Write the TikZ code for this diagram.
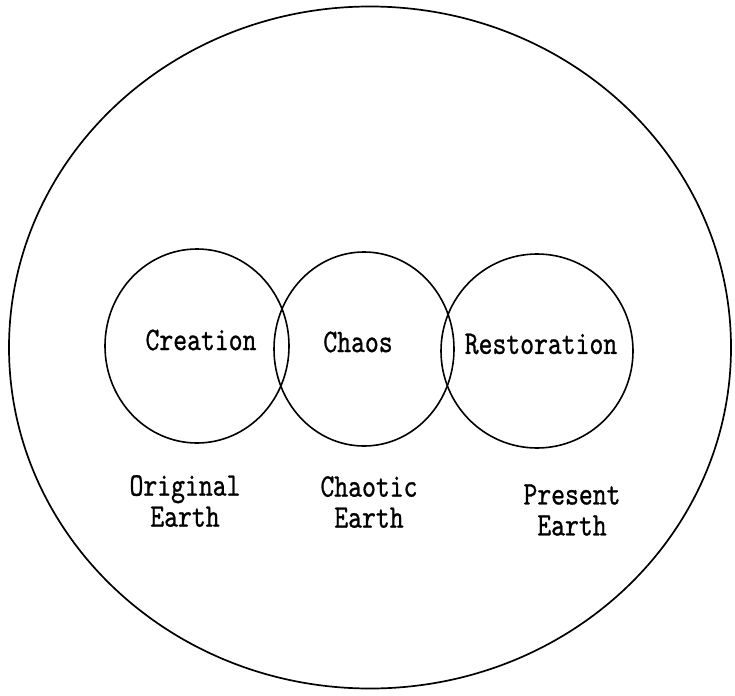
\documentclass[tikz,border=0pt]{standalone}
\usepackage{fontspec}
\setmonofont[FakeStretch=0.8, FakeBold=0.8]{lmmono10-regular.otf}
\usetikzlibrary{shapes.geometric}
\tikzset{
  world/.style    = {draw, ellipse, line width=1.7pt, inner sep=0pt,
                     minimum width=722pt, minimum height=682pt},
  age/.style      = {draw, ellipse, line width=1.6pt, inner sep=0pt,
                     minimum height=194pt},
  agename/.style  = {font=\ttfamily\fontsize{33}{31}\selectfont, inner sep=0pt},
  earthname/.style= {font=\ttfamily\fontsize{33}{31}\selectfont, align=center,
                     inner sep=0pt},
}

\begin{document}
\begin{tikzpicture}[x=1pt, y=1pt]
    \useasboundingbox (0,0) rectangle (735,-695);

    \node[world]                         (earth) at (370,-347.5) {};
    \node[age, minimum width=184pt]      (crea)  at (197,-346) {};
    \node[age, minimum width=180pt]      (chao)  at (364,-349) {};
    \node[age, minimum width=192pt]      (rest)  at (537,-351) {};

    \node[agename]   (creaname) at (201,-340) {Creation};
    \node[agename]   (chaoname) at (358,-342) {Chaos};
    \node[agename]   (restname) at (541,-344) {Restoration};

    \node[earthname] (orig)  at (185,-501) {Original\\Earth};
    \node[earthname] (chaot) at (369,-502) {Chaotic\\Earth};
    \node[earthname] (pres)  at (572,-510) {Present\\Earth};
\end{tikzpicture}
\end{document}
